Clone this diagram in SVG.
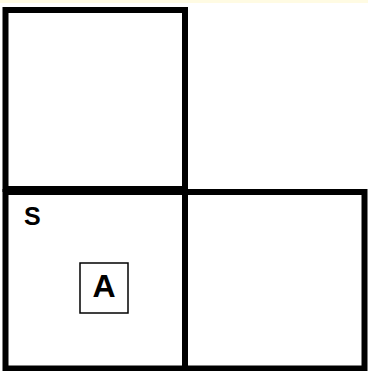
<svg xmlns="http://www.w3.org/2000/svg" width="368" height="371" viewBox="0 0 368 371">
<style>
.sq{fill:#fff;stroke:#000;stroke-width:6}
.lbl{font-family:"Liberation Sans",Arial,sans-serif;font-weight:bold;fill:#000}
.box{fill:#fff;stroke:#000;stroke-width:1.5}
</style>
<rect x="0" y="0" width="368" height="371" fill="#fff"/>
<rect x="0" y="0" width="368" height="3" fill="#fffbe3"/>
<g id="room-top">
<rect class="sq" x="5.5" y="10" width="179.5" height="179"/>
</g>
<g id="room-s">
<rect class="sq" x="5.5" y="192" width="179.5" height="176.5"/>
<text class="lbl" x="24" y="225" font-size="25">S</text>
</g>
<g id="room-right">
<rect class="sq" x="185" y="192" width="179.5" height="176.5"/>
</g>
<g id="node-a">
<rect class="box" x="80" y="263" width="48" height="50"/>
<text class="lbl" x="104" y="297" font-size="32" text-anchor="middle">A</text>
</g>
<g id="connectors"/>
</svg>
